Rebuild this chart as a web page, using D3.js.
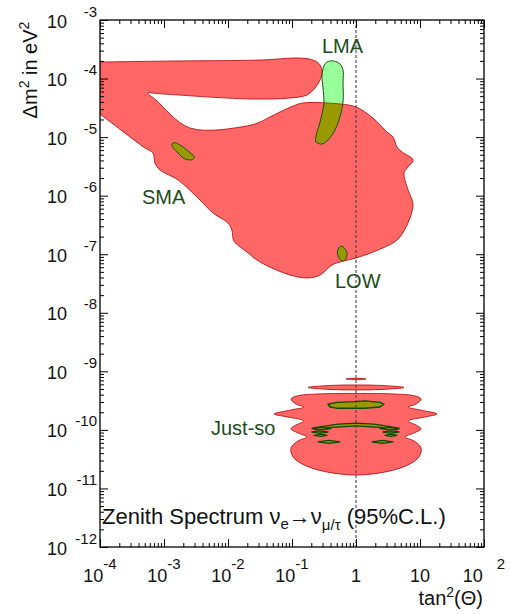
<!DOCTYPE html>
<html>
<head>
<meta charset="utf-8">
<script src="https://cdn.jsdelivr.net/npm/d3@7"></script>
<style>
  body { margin: 0; background: #fff; }
  text { font-family: "Liberation Sans", Arial, Helvetica, sans-serif; white-space: pre; }
</style>
</head>
<body>
<svg id="chart" width="511" height="614"></svg>
<script>
// ---- axis ticks ----
const xMajor = [1e-4, 1e-3, 1e-2, 1e-1, 1, 10, 100];
const xTickBase = ["10", "10", "10", "10", "1", "10", "10\u2002\u00a0"];
const xTickExp = ["-4", "-3", "-2", "-1", "", "", "2"];
const yMajor = [1e-12, 1e-11, 1e-10, 1e-9, 1e-8, 1e-7, 1e-6, 1e-5, 1e-4, 1e-3];
const yTickExp = ["-12", "-11", "-10", "-9", "-8", "-7", "-6", "-5", "-4", "-3"];

// ---- allowed regions, [tan^2(theta), dm^2 (eV^2)] ----
const mainRegion = [
  [7.5e-5, 1.92e-4], [1e-4, 1.92e-4], [4.22e-4, 1.96e-4], [1.78e-3, 2.0e-4],
  [3.16e-2, 2.07e-4], [0.133, 2.24e-4], [0.213, 2.07e-4], [0.274, 1.71e-4],
  [0.294, 1.29e-4], [0.274, 9.45e-5], [0.229, 6.9e-5], [0.171, 5.24e-5],
  [0.093, 4.66e-5], [2.21e-2, 4.48e-5], [8.06e-4, 5.53e-5], [5.62e-4, 5.67e-5],
  [7.5e-4, 4.3e-5], [2.55e-3, 1.43e-5], [1.98e-2, 1.55e-5], [3.16e-2, 1.81e-5],
  [4.53e-2, 2.21e-5], [0.104, 3.40e-5], [0.149, 3.83e-5], [0.562, 3.68e-5],
  [1, 3.27e-5], [1.84, 2.12e-5], [3.05, 1.22e-5], [3.79, 1.0e-5],
  [4.37, 6.78e-6], [5.23, 5.57e-6], [7.78, 4.07e-6], [6.27, 2.97e-6],
  [5.62, 2.44e-6], [6.27, 1.41e-6], [7.5, 8.44e-7], [7.78, 6.67e-7],
  [6.49, 3.41e-7], [4.37, 1.75e-7], [1.84, 1.09e-7], [1, 8.63e-8],
  [0.562, 7.37e-8], [0.422, 6.55e-8], [0.274, 4.42e-8], [0.178, 3.93e-8],
  [0.093, 4.42e-8], [3.16e-2, 7.37e-8], [1.98e-2, 1.09e-7], [1.24e-2, 1.68e-7],
  [1.15e-2, 2.59e-7], [1e-2, 3.41e-7], [5.83e-3, 5.06e-7], [3.65e-3, 8.44e-7],
  [1.66e-3, 1.85e-6], [8.66e-4, 2.75e-6], [7.23e-4, 3.61e-6], [6.73e-4, 5.36e-6],
  [5.05e-4, 6.52e-6], [1e-4, 2.48e-5], [7.5e-5, 3.14e-5]
];

const lmaRegion = [
  [0.422, 2.0e-4], [0.542, 1.84e-4], [0.627, 1.40e-4], [0.627, 8.73e-5],
  [0.627, 3.98e-5], [0.562, 2.21e-5], [0.47, 1.32e-5], [0.365, 8.93e-6],
  [0.294, 7.63e-6], [0.237, 8.26e-6], [0.237, 1.04e-5], [0.264, 1.55e-5],
  [0.294, 2.48e-5], [0.316, 3.83e-5], [0.305, 6.9e-5], [0.294, 1.15e-4],
  [0.316, 1.64e-4], [0.352, 1.92e-4]
];

const smaRegion = [
  [1.33e-3, 7.63e-6], [1.49e-3, 8.03e-6], [1.78e-3, 7.33e-6], [2.26e-3, 6.03e-6],
  [2.81e-3, 4.95e-6], [2.97e-3, 4.45e-6], [2.71e-3, 4.11e-6], [2.13e-3, 4.23e-6],
  [1.89e-3, 4.63e-6], [1.58e-3, 5.64e-6], [1.37e-3, 6.70e-6]
];

const lowRegion = [
  [0.583, 1.38e-7], [0.673, 1.23e-7], [0.723, 1.01e-7], [0.673, 7.98e-8],
  [0.604, 7.67e-8], [0.533, 8.97e-8], [0.514, 1.14e-7]
];

const justSoBody = [
  [1, 4.19e-10], [4.07, 4.10e-10], [8.35, 3.80e-10], [10.4, 3.37e-10],
  [8.66, 2.77e-10], [6.49, 2.46e-10], [10, 2.19e-10], [18.4, 1.87e-10],
  [12.0, 1.66e-10], [6.49, 1.42e-10], [8.66, 1.21e-10], [10.4, 1.04e-10],
  [8.06, 8.85e-11], [5.83, 7.57e-11], [8.06, 6.47e-11], [10.4, 4.91e-11],
  [9.64, 3.45e-11], [6.49, 2.52e-11], [2.84, 1.91e-11], [1, 1.70e-11],
  [0.352, 1.91e-11], [0.154, 2.52e-11], [0.104, 3.45e-11], [0.0964, 4.91e-11],
  [0.124, 6.47e-11], [0.171, 7.57e-11], [0.124, 8.85e-11], [0.0964, 1.04e-10],
  [0.115, 1.21e-10], [0.154, 1.42e-10], [0.0866, 1.66e-10], [0.0524, 1.87e-10],
  [0.0964, 2.19e-10], [0.154, 2.46e-10], [0.115, 2.77e-10], [0.0964, 3.37e-10],
  [0.120, 3.80e-10], [0.246, 4.10e-10]
];

const justSoBand = [
  [0.178, 5.30e-10], [0.393, 5.74e-10], [1, 5.85e-10], [2.55, 5.74e-10],
  [5.62, 5.30e-10], [2.55, 4.90e-10], [1, 4.81e-10], [0.393, 4.90e-10]
];

const justSoCap = [
  [0.698, 7.41e-10], [1, 7.62e-10], [1.43, 7.41e-10], [1, 7.21e-10]
];

const justSoUpperIsland = [
  [0.365, 2.74e-10], [0.505, 2.96e-10], [0.964, 3.03e-10], [1.38, 3.12e-10],
  [2.37, 2.96e-10], [2.74, 2.74e-10], [2.37, 2.46e-10], [1.38, 2.34e-10],
  [0.524, 2.34e-10], [0.393, 2.46e-10]
];

const justSoArch = [
  [0.213, 1.08e-10], [0.365, 1.18e-10], [0.524, 1.25e-10], [1, 1.30e-10],
  [1.91, 1.25e-10], [2.74, 1.18e-10], [4.70, 1.07e-10], [4.22, 1.0e-10],
  [2.64, 1.09e-10], [1, 1.17e-10], [0.378, 1.09e-10], [0.237, 1.0e-10]
];

const justSoBars = [
  [[0.205, 1.05e-10], [0.289, 1.10e-10], [0.407, 1.05e-10], [0.289, 9.97e-11]],
  [[0.205, 9.2e-11], [0.274, 9.66e-11], [0.365, 9.2e-11], [0.274, 8.79e-11]],
  [[0.221, 8.09e-11], [0.28, 8.45e-11], [0.352, 8.09e-11], [0.28, 7.72e-11]],
  [[0.255, 6.22e-11], [0.378, 6.6e-11], [0.562, 6.22e-11], [0.378, 5.86e-11]],
  [[2.37, 1.05e-10], [3.34, 1.10e-10], [4.70, 1.05e-10], [3.34, 9.97e-11]],
  [[2.64, 9.2e-11], [3.52, 9.66e-11], [4.70, 9.2e-11], [3.52, 8.79e-11]],
  [[2.84, 8.09e-11], [3.52, 8.45e-11], [4.37, 8.09e-11], [3.52, 7.72e-11]],
  [[1.78, 6.22e-11], [2.59, 6.6e-11], [3.79, 6.22e-11], [2.59, 5.86e-11]]
];

const regionNames = ["LMA", "SMA", "LOW", "Just-so"];
const regionLabelAt = [[0.294, 2.73e-4], [4.53e-4, 7.21e-7], [0.47, 2.65e-8], [5.42e-3, 8.19e-11]];

const maximalMixing = 1;

// ---- layout ----
const svg = d3.select("#chart");
const L = 100, R = 484, T = 20, B = 547;
const x = d3.scaleLog().domain([1e-4, 1e2]).range([L, R]);
const y = d3.scaleLog().domain([1e-12, 1e-3]).range([B, T]);

const RED = "#ff6666", RED_EDGE = "#b00000";
const LIGHT_GREEN = "#99ff99", OLIVE = "#999900", DARK_GREEN = "#1a4d1a";

const smooth = d3.line().x(d => x(d[0])).y(d => y(d[1])).curve(d3.curveCatmullRomClosed.alpha(0.5));
const sharp = d3.line().x(d => x(d[0])).y(d => y(d[1])).curve(d3.curveLinearClosed);

const defs = svg.append("defs");
defs.append("clipPath").attr("id", "plotArea")
  .append("rect").attr("x", L).attr("y", T).attr("width", R - L).attr("height", B - T);
defs.append("clipPath").attr("id", "mainClip")
  .append("path").attr("d", smooth(mainRegion));
defs.append("clipPath").attr("id", "lmaClip")
  .append("path").attr("d", smooth(lmaRegion));

const plot = svg.append("g").attr("clip-path", "url(#plotArea)");

// red 95% C.L. regions
plot.append("path").attr("d", smooth(mainRegion))
  .attr("fill", RED).attr("stroke", RED_EDGE).attr("stroke-width", 0.8);
[justSoBody, justSoBand, justSoCap].forEach(r => {
  plot.append("path").attr("d", smooth(r))
    .attr("fill", RED).attr("stroke", RED_EDGE).attr("stroke-width", 0.8);
});

// LMA: light green, olive where it overlaps the red region
plot.append("path").attr("d", smooth(lmaRegion)).attr("fill", LIGHT_GREEN);
plot.append("g").attr("clip-path", "url(#mainClip)")
  .append("path").attr("d", smooth(lmaRegion)).attr("fill", OLIVE);
plot.append("g").attr("clip-path", "url(#lmaClip)")
  .append("path").attr("d", smooth(mainRegion))
  .attr("fill", "none").attr("stroke", "#8a2a00").attr("stroke-width", 0.8);
plot.append("path").attr("d", smooth(lmaRegion))
  .attr("fill", "none").attr("stroke", DARK_GREEN).attr("stroke-width", 1);

// SMA and LOW islands
[smaRegion, lowRegion].forEach(r => {
  plot.append("path").attr("d", smooth(r))
    .attr("fill", OLIVE).attr("stroke", DARK_GREEN).attr("stroke-width", 1);
});

// Just-so islands
[justSoUpperIsland, justSoArch].concat(justSoBars).forEach(r => {
  plot.append("path").attr("d", sharp(r))
    .attr("fill", OLIVE).attr("stroke", "#0b4a0b").attr("stroke-width", 1.3)
    .attr("stroke-linejoin", "round");
});

// maximal mixing line
svg.append("line")
  .attr("x1", x(maximalMixing)).attr("x2", x(maximalMixing))
  .attr("y1", T).attr("y2", B)
  .attr("stroke", "#444").attr("stroke-width", 1.1).attr("stroke-dasharray", "3,2");

// ---- axes (ticks point inward on all four sides) ----
function minorTicks(majors) {
  const out = [];
  for (let i = 0; i < majors.length - 1; i++)
    for (let k = 2; k <= 9; k++) out.push(k * majors[i]);
  return out;
}
const xMinor = minorTicks(xMajor), yMinor = minorTicks(yMajor);
const noLabel = () => "";

function drawAxis(gen, scale, majors, minors, tx, ty) {
  [[majors, 8], [minors, 4]].forEach(([vals, len]) => {
    const g = svg.append("g").attr("transform", `translate(${tx},${ty})`)
      .call(gen(scale).tickValues(vals).tickFormat(noLabel).tickSizeInner(-len).tickSizeOuter(0));
    g.select(".domain").remove();
    g.selectAll("line").attr("stroke", "#000").attr("stroke-width", 1);
  });
}
drawAxis(d3.axisBottom, x, xMajor, xMinor, 0, B);
drawAxis(d3.axisTop, x, xMajor, xMinor, 0, T);
drawAxis(d3.axisLeft, y, yMajor, yMinor, L, 0);
drawAxis(d3.axisRight, y, yMajor, yMinor, R, 0);

svg.append("rect").attr("x", L).attr("y", T).attr("width", R - L).attr("height", B - T)
  .attr("fill", "none").attr("stroke", "#000").attr("stroke-width", 1.3);

// tick labels
xMajor.forEach((v, i) => {
  const t = svg.append("text").attr("x", x(v)).attr("y", B + 35)
    .attr("text-anchor", "middle").attr("font-size", 18).attr("fill", "#111");
  t.append("tspan").text(xTickBase[i]);
  if (xTickExp[i]) t.append("tspan").attr("dy", -13).attr("font-size", 15).text(xTickExp[i]);
});
yMajor.forEach((v, i) => {
  svg.append("text").attr("x", 47).attr("y", y(v) + 7.5)
    .attr("font-size", 18).attr("fill", "#111").text("10");
  svg.append("text").attr("x", 97).attr("y", y(v) - 3.5).attr("text-anchor", "end")
    .attr("font-size", 15).attr("fill", "#111").text(yTickExp[i]);
});

// axis titles
const xt = svg.append("text").attr("x", 483).attr("y", 605).attr("text-anchor", "end")
  .attr("font-size", 20).attr("fill", "#111");
xt.append("tspan").text("tan");
xt.append("tspan").attr("dy", -8).attr("font-size", 14).text("2");
xt.append("tspan").attr("dy", 8).text("(\u0398)");

const yt = svg.append("text").attr("transform", "translate(37,70) rotate(-90)")
  .attr("text-anchor", "middle").attr("font-size", 20).attr("fill", "#111");
yt.append("tspan").text("\u0394m");
yt.append("tspan").attr("dy", -8).attr("font-size", 14).text("2");
yt.append("tspan").attr("dy", 8).text(" in eV");
yt.append("tspan").attr("dy", -8).attr("font-size", 14).text("2");

// in-plot caption
const cap = svg.append("text").attr("x", 102).attr("y", 524).attr("font-size", 22).attr("fill", "#111");
cap.append("tspan").text("Zenith Spectrum \u03bd");
cap.append("tspan").attr("dy", 5).attr("font-size", 15).text("e");
cap.append("tspan").attr("dy", -5).text("\u2192\u03bd");
cap.append("tspan").attr("dy", 6).attr("font-size", 15).text("\u03bc/\u03c4");
cap.append("tspan").attr("dy", -6).text(" (95%C.L.)");

// region names
regionNames.forEach((name, i) => {
  svg.append("text").attr("x", x(regionLabelAt[i][0])).attr("y", y(regionLabelAt[i][1]))
    .attr("font-size", 20).attr("fill", DARK_GREEN).text(name);
});
</script>
</body>
</html>
